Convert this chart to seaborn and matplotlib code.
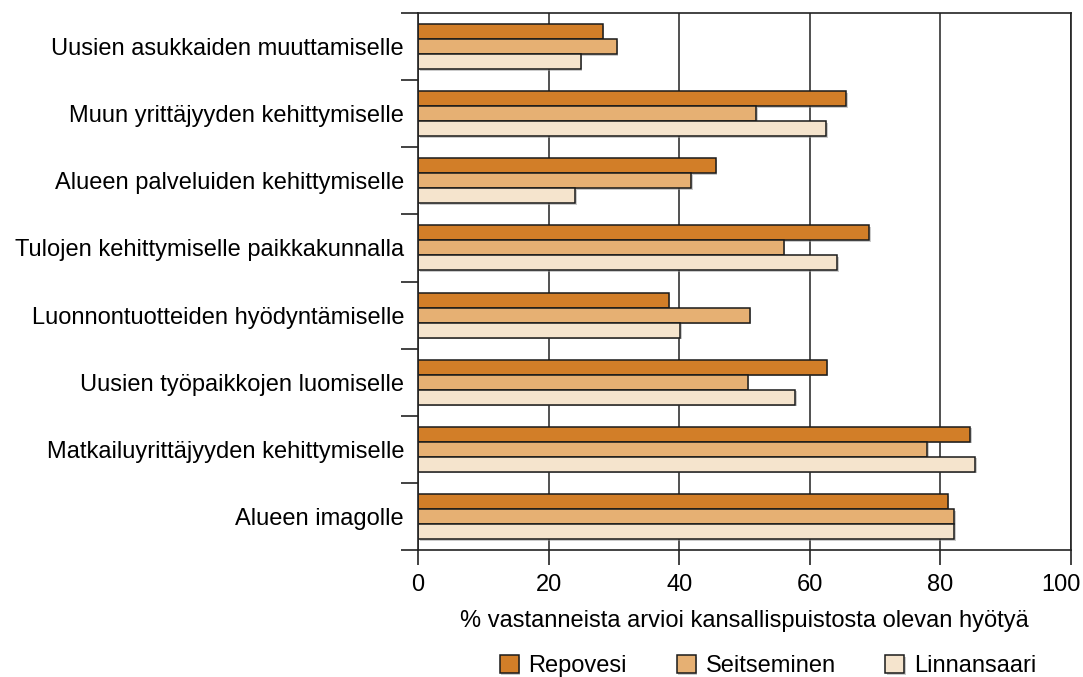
import pandas as pd
import matplotlib
matplotlib.use("Agg")
import matplotlib.pyplot as plt
import matplotlib.patheffects as pe
import seaborn as sns

categories = [
    "Uusien asukkaiden muuttamiselle",
    "Muun yrittäjyyden kehittymiselle",
    "Alueen palveluiden kehittymiselle",
    "Tulojen kehittymiselle paikkakunnalla",
    "Luonnontuotteiden hyödyntämiselle",
    "Uusien työpaikkojen luomiselle",
    "Matkailuyrittäjyyden kehittymiselle",
    "Alueen imagolle",
]
parks = ["Repovesi", "Seitseminen", "Linnansaari"]
repovesi = [28.3, 65.6, 45.6, 69.1, 38.4, 62.6, 84.6, 81.1]
seitseminen = [30.4, 51.8, 41.8, 56.0, 50.8, 50.5, 78.0, 82.1]
linnansaari = [24.9, 62.5, 24.1, 64.2, 40.1, 57.8, 85.3, 82.1]
xticks = [0, 20, 40, 60, 80, 100]
colors = ["#D27E28", "#E6B073", "#F5E4CD"]

df = pd.DataFrame({
    "kategoria": categories * 3,
    "puisto": [p for p in parks for _ in categories],
    "arvo": repovesi + seitseminen + linnansaari,
})

sns.set_style("white")
plt.rcParams["font.family"] = ["Liberation Sans", "DejaVu Sans"]
plt.rcParams["font.size"] = 17
plt.rcParams["text.color"] = "black"
plt.rcParams["xtick.color"] = "black"
plt.rcParams["ytick.color"] = "black"
plt.rcParams["axes.labelcolor"] = "black"

fig = plt.figure(figsize=(10.83, 6.77), dpi=100)
ax = fig.add_axes([418 / 1083, 1 - 550 / 677, (1071 - 418) / 1083, (550 - 13) / 677])

sns.barplot(data=df, y="kategoria", x="arvo", hue="puisto", order=categories,
            hue_order=parks, palette=colors, saturation=1, width=0.67,
            edgecolor="#1a1a1a", linewidth=1.1, ax=ax, legend=True)

# faint drop shadow like the original
for bar in ax.patches:
    bar.set_path_effects([pe.SimplePatchShadow(offset=(1.2, -1.2), shadow_rgbFace="#999999", alpha=0.5),
                          pe.Normal()])

ax.set_xlim(0, 100)
ax.set_ylim(7.5, -0.5)
ax.set_xticks(xticks)
ax.set_xticklabels([str(t) for t in xticks[:-1]] + [""])
# last label sits a little left of its tick, as in the original
ax.annotate(str(xticks[-1]), xy=(xticks[-1], 0), xycoords=("data", "axes fraction"),
            xytext=(-7, -17), textcoords="offset points", ha="center", va="top", fontsize=17)
ax.xaxis.grid(True, color="#333333", linewidth=1.2)
ax.set_axisbelow(True)

# category labels without tick marks, boundary ticks as minor ticks
ax.set_yticks(range(len(categories)))
ax.set_yticklabels(categories)
ax.set_yticks([i - 0.5 for i in range(len(categories) + 1)], minor=True)
ax.tick_params(axis="y", which="major", length=0, pad=10, labelsize=17)
ax.tick_params(axis="y", which="minor", length=12, width=1.2, color="#222222", direction="out", left=True)
ax.tick_params(axis="x", length=11, width=1.2, color="#222222", direction="out", bottom=True, pad=6, labelsize=17)

for s in ax.spines.values():
    s.set_color("#222222")
    s.set_linewidth(1.2)
    s.set_visible(True)

ax.set_ylabel("")
ax.set_xlabel("% vastanneista arvioi kansallispuistosta olevan hyötyä", fontsize=17, labelpad=10)

handles, labels = ax.get_legend_handles_labels()
ax.get_legend().remove()
fig.legend(handles, labels, loc="center", bbox_to_anchor=(768 / 1083, 1 - 666 / 677),
           ncol=3, frameon=False, fontsize=17, handlelength=0.8, handleheight=0.8,
           handletextpad=0.42, columnspacing=2.1)

fig.savefig("out.png", dpi=100)
